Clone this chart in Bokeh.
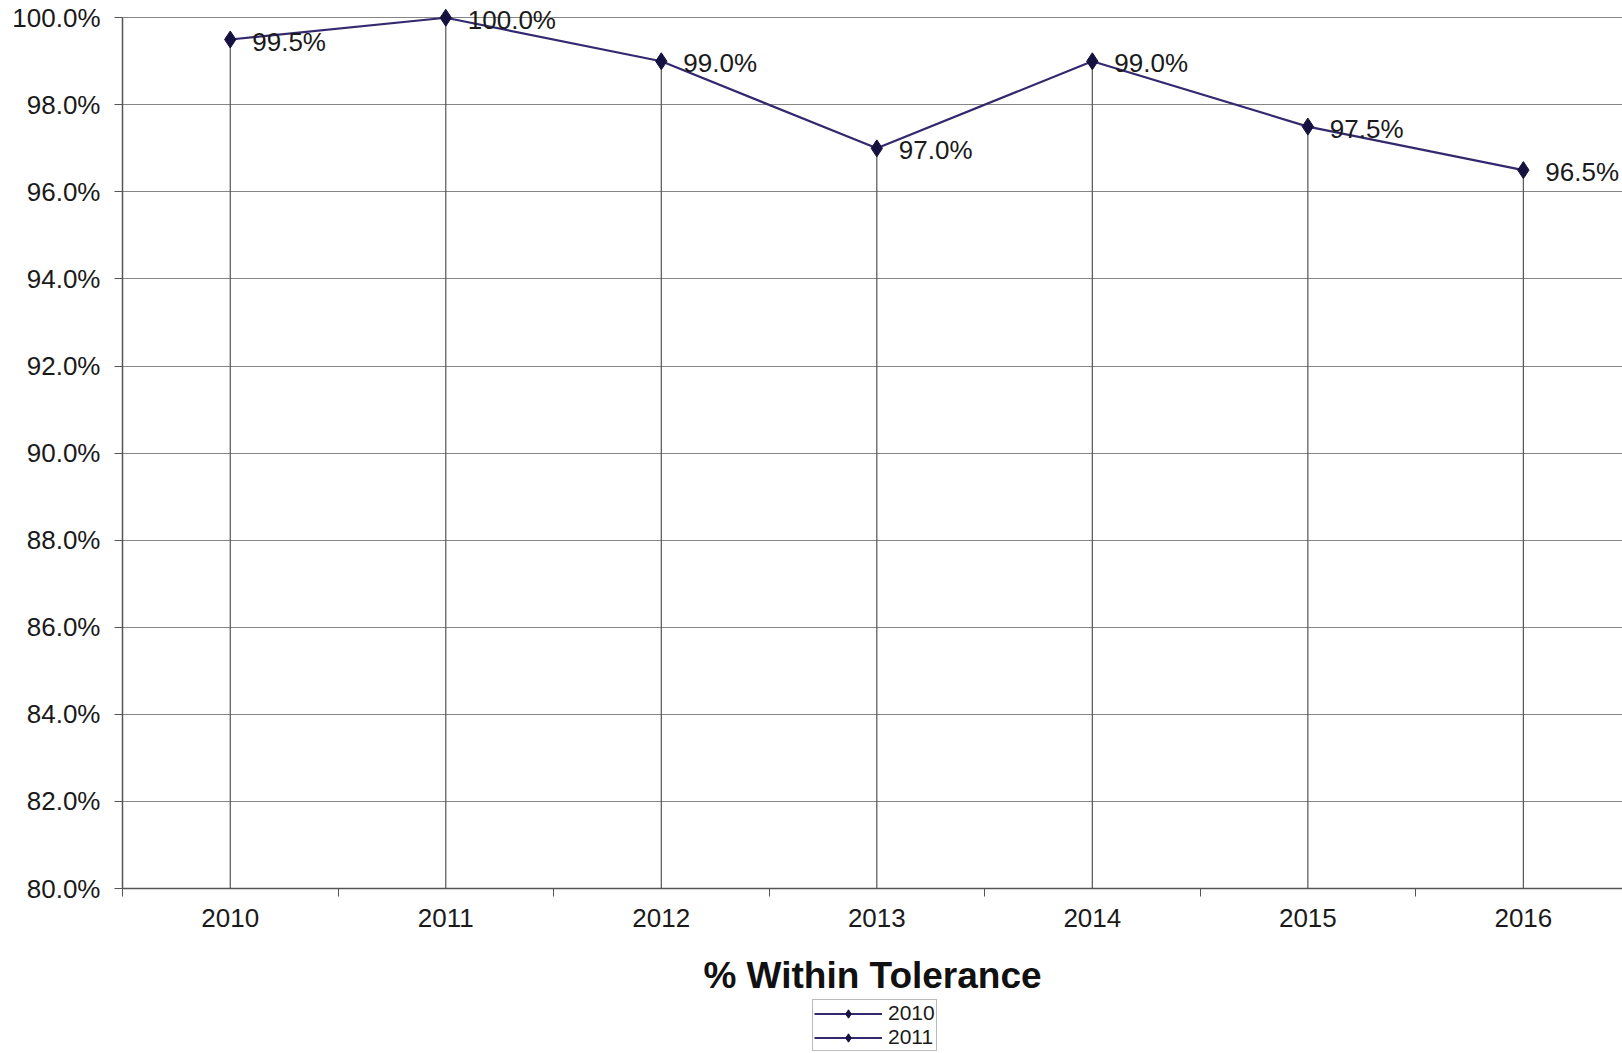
from bokeh.plotting import figure
from bokeh.layouts import column
from bokeh.models import (Range1d, FixedTicker, PrintfTickFormatter, Legend, LegendItem,
                          ColumnDataSource)
from bokeh.core.properties import value
from bokeh.embed import file_html
from bokeh.resources import INLINE

years = ["2010", "2011", "2012", "2013", "2014", "2015", "2016"]
pct = [99.5, 100.0, 99.0, 97.0, 99.0, 97.5, 96.5]
pct_labels = ["99.5%", "100.0%", "99.0%", "97.0%", "99.0%", "97.5%", "96.5%"]
y_ticks = [80, 82, 84, 86, 88, 90, 92, 94, 96, 98, 100]
legend_labels = ["2010", "2011"]
title_text = "% Within Tolerance"

FONT = "Liberation Sans"
LINE_C = "#33296e"
MARK_C = "#16123f"
xs = list(range(len(years)))
src = ColumnDataSource(dict(x=xs, y=pct, lab=pct_labels, base=[y_ticks[0]] * len(xs)))

p = figure(width=1622, height=998, output_backend="svg", toolbar_location=None,
           x_range=Range1d(-0.5, 6.46), y_range=Range1d(80, 100.35),
           min_border_left=122, min_border_right=0, min_border_top=2, min_border_bottom=108)
p.outline_line_color = None
p.background_fill_color = "white"
p.border_fill_color = "white"

# grid
p.xgrid.grid_line_color = None
p.ygrid.grid_line_color = "#858585"
p.ygrid.grid_line_width = 1.2

# y axis
p.yaxis.ticker = FixedTicker(ticks=y_ticks, minor_ticks=[])
p.yaxis.bounds = (y_ticks[0], y_ticks[-1])
p.yaxis.formatter = PrintfTickFormatter(format="%.1f%%")
p.yaxis.major_label_text_font = FONT
p.yaxis.major_label_text_font_size = "26px"
p.yaxis.major_label_text_color = "#1a1a1a"
p.yaxis.axis_line_color = "#555555"
p.yaxis.axis_line_width = 1.5
p.yaxis.major_tick_line_color = "#555555"
p.yaxis.major_tick_out = 8
p.yaxis.major_tick_in = 0
p.yaxis.major_label_standoff = 14

# x axis
p.xaxis.ticker = FixedTicker(ticks=xs, minor_ticks=[i - 0.5 for i in range(len(years) + 1)])
p.xaxis.major_label_overrides = {i: y for i, y in enumerate(years)}
p.xaxis.major_label_text_font = FONT
p.xaxis.major_label_text_font_size = "26px"
p.xaxis.major_label_text_color = "#1a1a1a"
p.xaxis.major_tick_out = 0
p.xaxis.major_tick_in = 0
p.xaxis.minor_tick_out = 8
p.xaxis.minor_tick_in = 0
p.xaxis.minor_tick_line_color = "#555555"
p.xaxis.axis_line_color = "#555555"
p.xaxis.axis_line_width = 1.5
p.xaxis.major_label_standoff = 12
p.xaxis.axis_label = title_text
p.xaxis.axis_label_text_font = FONT
p.xaxis.axis_label_text_font_style = "bold"
p.xaxis.axis_label_text_font_size = "37px"
p.xaxis.axis_label_text_color = "#111111"
p.xaxis.axis_label_standoff = 25

# drop lines
p.segment(x0="x", y0="base", x1="x", y1="y", source=src, line_color="#555555", line_width=1.2)

# series
p.line("x", "y", source=src, line_color=LINE_C, line_width=2.2)
p.scatter("x", "y", source=src, marker="diamond", size=17, fill_color=MARK_C,
          line_color=MARK_C)

# data labels
p.text("x", "y", text="lab", source=src, x_offset=22, y_offset=2,
       text_font=value(FONT), text_font_size="26px", text_color="#1a1a1a",
       text_baseline="middle", text_align="left")

# legend strip below the chart (same borders so frames align)
q = figure(width=1622, height=55, output_backend="svg", toolbar_location=None,
           x_range=Range1d(-0.5, 6.46), y_range=Range1d(0, 1),
           x_axis_type=None, y_axis_type=None,
           min_border_left=122, min_border_right=0, min_border_top=0, min_border_bottom=0)
q.outline_line_color = None
q.xgrid.grid_line_color = None
q.ygrid.grid_line_color = None
# same series, lying outside this strip's range: only its legend swatches show
lg_line = q.line("x", "y", source=src, line_color=LINE_C, line_width=2.2)
lg_mark = q.scatter("x", "y", source=src, marker="diamond", size=17, fill_color=MARK_C,
                    line_color=MARK_C)
legend = Legend(items=[LegendItem(label=lab, renderers=[lg_line, lg_mark], index=0)
                       for lab in legend_labels],
                location=(690, 2), orientation="vertical",
                label_text_font=FONT, label_text_font_size="21px", label_text_color="#1a1a1a",
                glyph_width=68, glyph_height=21, label_height=21, spacing=0,
                padding=1, margin=0, label_standoff=6,
                border_line_color="#777777", border_line_width=1.2)
q.add_layout(legend, "center")

open("out.html", "w").write(file_html(column(p, q, spacing=0), INLINE))
